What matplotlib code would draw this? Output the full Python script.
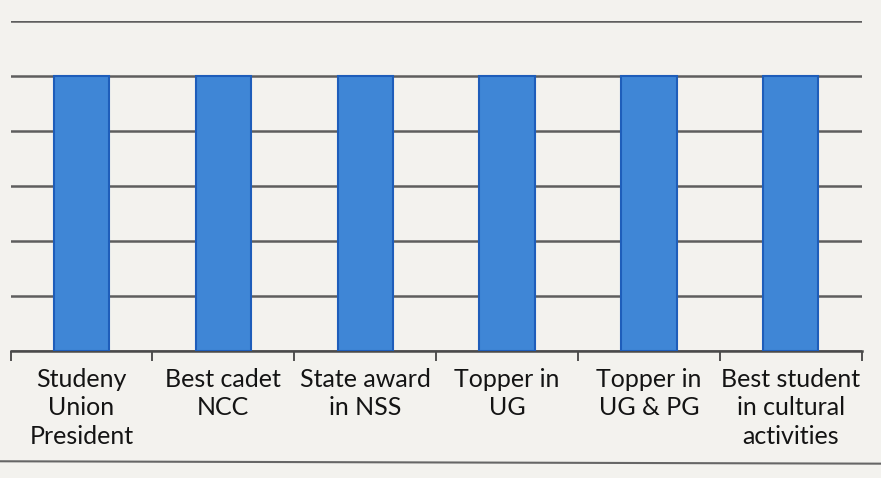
import matplotlib.pyplot as plt
import numpy as np

categories = [
    "Studeny\nUnion\nPresident",
    "Best cadet\nNCC",
    "State award\nin NSS",
    "Topper in\nUG",
    "Topper in\nUG & PG",
    "Best student\nin cultural\nactivities",
]
values = [5, 5, 5, 5, 5, 5]
y_ticks = [0, 1, 2, 3, 4, 5, 6]

bg = "#F3F2EE"
fig = plt.figure(figsize=(8.81, 4.78), dpi=100, facecolor=bg)
ax = fig.add_axes([0.012, 0.266, 0.966, 0.69], facecolor=bg)

x = np.arange(len(categories))
ax.bar(x, values, width=0.39, color="#3F86D6", edgecolor="#1E5DBA",
       linewidth=1.5, zorder=3)

ax.set_xlim(-0.5, len(categories) - 0.5)
ax.set_ylim(y_ticks[0], y_ticks[-1])
ax.set_yticks(y_ticks)
ax.yaxis.grid(True, color="#5E5E5E", linewidth=1.8, zorder=0)
ax.tick_params(axis="y", length=0, labelleft=False)

# tick marks between categories, labels centred under bars
ax.set_xticks(np.arange(len(categories) + 1) - 0.5)
ax.set_xticklabels([])
ax.set_xticks(x, minor=True)
ax.set_xticklabels(categories, minor=True, fontsize=18, family="Lato",
                   color="#141414", linespacing=1.3)
ax.tick_params(axis="x", which="major", length=7, width=1.3,
               color="#444444", direction="out")
ax.tick_params(axis="x", which="minor", length=0, pad=12)

for s in ["top", "right", "left"]:
    ax.spines[s].set_visible(False)
ax.spines["bottom"].set_color("#4A4A4A")
ax.spines["bottom"].set_linewidth(1.8)

fig.add_artist(plt.Line2D([0, 1], [0.035, 0.03], color="#666666",
                          linewidth=1.5, transform=fig.transFigure))

fig.savefig("out.png", dpi=100, facecolor=bg)
